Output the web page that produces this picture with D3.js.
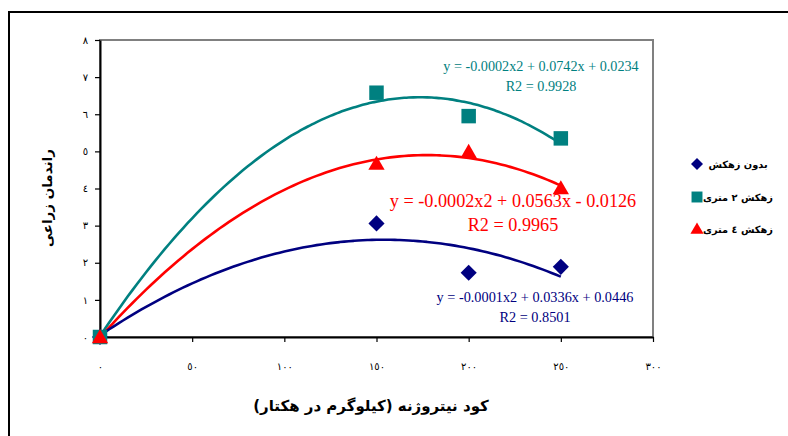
<!DOCTYPE html>
<html>
<head>
<meta charset="utf-8">
<script src="https://cdn.jsdelivr.net/npm/d3@7"></script>
<style>
  html, body { margin: 0; padding: 0; background: #fff; }
  svg { display: block; }
</style>
</head>
<body>
<svg id="chart" width="788" height="436"></svg>
<script>
// nitrogen rate (kg/ha)
let nitrogen = [0, 150, 200, 250];
// series
let noDrain = [0, 3.06, 1.73, 1.89];
let drain2m = [0, 6.58, 5.95, 5.35];
let drain4m = [0, 4.67, 4.99, 4.01];

let seriesNames = ['بدون زهکش', 'زهکش ٢ متری', 'زهکش ٤ متری'];
let seriesColors = ['#000080', '#008080', '#FF0000'];
let seriesShapes = ['diamond', 'square', 'triangle'];

let eqTexts = [
    ['y = -0.0001x2 + 0.0336x + 0.0446', 'R2 = 0.8501'],
    ['y = -0.0002x2 + 0.0742x + 0.0234', 'R2 = 0.9928'],
    ['y = -0.0002x2 + 0.0563x - 0.0126', 'R2 = 0.9965']
];

let xTicks = [0, 50, 100, 150, 200, 250, 300];
let yTicks = [0, 1, 2, 3, 4, 5, 6, 7, 8];

let yTitle = 'راندمان زراعی';
let xTitle = 'کود نیتروژنه (کیلوگرم در هکتار)';

(function () {
    let svg = d3.select('#chart');
    let allSeries = [noDrain, drain2m, drain4m];

    // arabic-indic digits for tick labels
    let toFa = function (n) {
        return String(n).replace(/[0-9]/g, c => '٠١٢٣٤٥٦٧٨٩'[+c]);
    };

    let x = d3.scaleLinear().domain([0, 300]).range([100, 653]);
    let y = d3.scaleLinear().domain([0, 8]).range([337, 40]);

    // outer frame
    svg.append('rect')
        .attr('x', 9).attr('y', 12).attr('width', 820).attr('height', 460)
        .attr('fill', 'none').attr('stroke', '#000').attr('stroke-width', 2);

    // plot area border (grey top / right)
    svg.append('rect')
        .attr('x', x(0)).attr('y', y(8))
        .attr('width', x(300) - x(0)).attr('height', y(0) - y(8))
        .attr('fill', 'none').attr('stroke', '#808080').attr('stroke-width', 2);

    let yAxis = svg.append('g')
        .attr('transform', `translate(${x(0)},0)`)
        .call(d3.axisLeft(y).tickValues(yTicks).tickSize(5).tickSizeOuter(0).tickPadding(7).tickFormat(toFa));
    let xAxis = svg.append('g')
        .attr('transform', `translate(0,${y(0)})`)
        .call(d3.axisBottom(x).tickValues(xTicks).tickSize(5).tickSizeOuter(0).tickPadding(21).tickFormat(toFa));

    [xAxis, yAxis].forEach(function (ax) {
        ax.select('.domain').attr('stroke', '#000').attr('stroke-width', 2);
        ax.selectAll('.tick line').attr('stroke', '#000').attr('stroke-width', 1.2);
        ax.selectAll('.tick text')
            .attr('font-family', 'DejaVu Sans, sans-serif')
            .attr('font-size', 10)
            .attr('fill', '#000');
    });

    // least squares quadratic (Excel polynomial trendline, order 2)
    function quadFit(xs, ys) {
        let s = [0, 0, 0, 0, 0], t = [0, 0, 0];
        for (let i = 0; i < xs.length; i++) {
            let p = 1;
            for (let k = 0; k < 5; k++) { s[k] += p; if (k < 3) t[k] += p * ys[i]; p *= xs[i]; }
        }
        let A = [[s[0], s[1], s[2], t[0]], [s[1], s[2], s[3], t[1]], [s[2], s[3], s[4], t[2]]];
        for (let i = 0; i < 3; i++) {
            for (let j = i + 1; j < 3; j++) {
                let f = A[j][i] / A[i][i];
                for (let k = i; k < 4; k++) A[j][k] -= f * A[i][k];
            }
        }
        let c = [0, 0, 0];
        for (let i = 2; i >= 0; i--) {
            let v = A[i][3];
            for (let k = i + 1; k < 3; k++) v -= A[i][k] * c[k];
            c[i] = v / A[i][i];
        }
        return c; // c0 + c1 x + c2 x^2
    }

    let line = d3.line().x(d => x(d[0])).y(d => y(d[1])).curve(d3.curveBasis);
    let drawOrder = [1, 2, 0];
    drawOrder.forEach(function (si) {
        let c = quadFit(nitrogen, allSeries[si]);
        let xs = d3.range(0, 250.01, 2.5);
        let pts = xs.map(v => [v, c[0] + c[1] * v + c[2] * v * v]);
        svg.append('path')
            .attr('d', line(pts))
            .attr('fill', 'none')
            .attr('stroke', seriesColors[si])
            .attr('stroke-width', 2.6);
    });

    let symbolFor = function (shape) {
        if (shape === 'diamond') return d3.symbol().type(d3.symbolSquare).size(130)();
        if (shape === 'square') return d3.symbol().type(d3.symbolSquare).size(210)();
        return d3.symbol().type(d3.symbolTriangle).size(115)();
    };
    let rotFor = shape => shape === 'diamond' ? ' rotate(45)' : '';
    let offFor = shape => shape === 'triangle' ? 1.5 : 0;

    [0, 1, 2].forEach(function (si) {
        svg.append('g').selectAll('path').data(nitrogen).enter()
            .append('path')
            .attr('d', symbolFor(seriesShapes[si]))
            .attr('transform', (d, i) => `translate(${x(d)},${y(allSeries[si][i]) + offFor(seriesShapes[si])})` + rotFor(seriesShapes[si]))
            .attr('fill', seriesColors[si]);
    });

    // trendline equations
    let eqPos = [
        { cx: 535, y1: 302, y2: 322, fs: 14.3 },
        { cx: 541, y1: 71, y2: 91, fs: 14.2 },
        { cx: 513, y1: 207, y2: 231, fs: 18.2 }
    ];
    eqTexts.forEach(function (t, si) {
        let p = eqPos[si];
        [t[0], t[1]].forEach(function (s, k) {
            svg.append('text')
                .attr('x', p.cx).attr('y', k === 0 ? p.y1 : p.y2)
                .attr('text-anchor', 'middle')
                .attr('font-family', 'Liberation Serif, Times New Roman, serif')
                .attr('font-size', p.fs)
                .attr('fill', seriesColors[si])
                .text(s);
        });
    });

    // legend
    let legendY = [164, 197, 229];
    seriesNames.forEach(function (name, si) {
        let sh = seriesShapes[si];
        let sym = sh === 'diamond' ? d3.symbol().type(d3.symbolSquare).size(72)()
            : sh === 'square' ? d3.symbol().type(d3.symbolSquare).size(120)()
            : d3.symbol().type(d3.symbolTriangle).size(75)();
        svg.append('path')
            .attr('d', sym)
            .attr('transform', `translate(697,${legendY[si] + (sh === 'triangle' ? 1 : 0)})` + rotFor(sh))
            .attr('fill', seriesColors[si]);
        svg.append('text')
            .attr('x', 738).attr('y', legendY[si] + 4)
            .attr('text-anchor', 'middle')
            .attr('font-family', 'DejaVu Sans, sans-serif')
            .attr('font-weight', 'bold')
            .attr('font-size', 9.8)
            .attr('fill', '#000')
            .text(name);
    });

    // axis titles
    svg.append('text')
        .attr('transform', 'translate(52,198) rotate(-90)')
        .attr('text-anchor', 'middle')
        .attr('font-family', 'DejaVu Sans, sans-serif')
        .attr('font-weight', 'bold')
        .attr('font-size', 13.5)
        .text(yTitle);
    svg.append('text')
        .attr('x', 371).attr('y', 411)
        .attr('text-anchor', 'middle')
        .attr('font-family', 'DejaVu Sans, sans-serif')
        .attr('font-weight', 'bold')
        .attr('font-size', 15)
        .text(xTitle);
})();
</script>
</body>
</html>
